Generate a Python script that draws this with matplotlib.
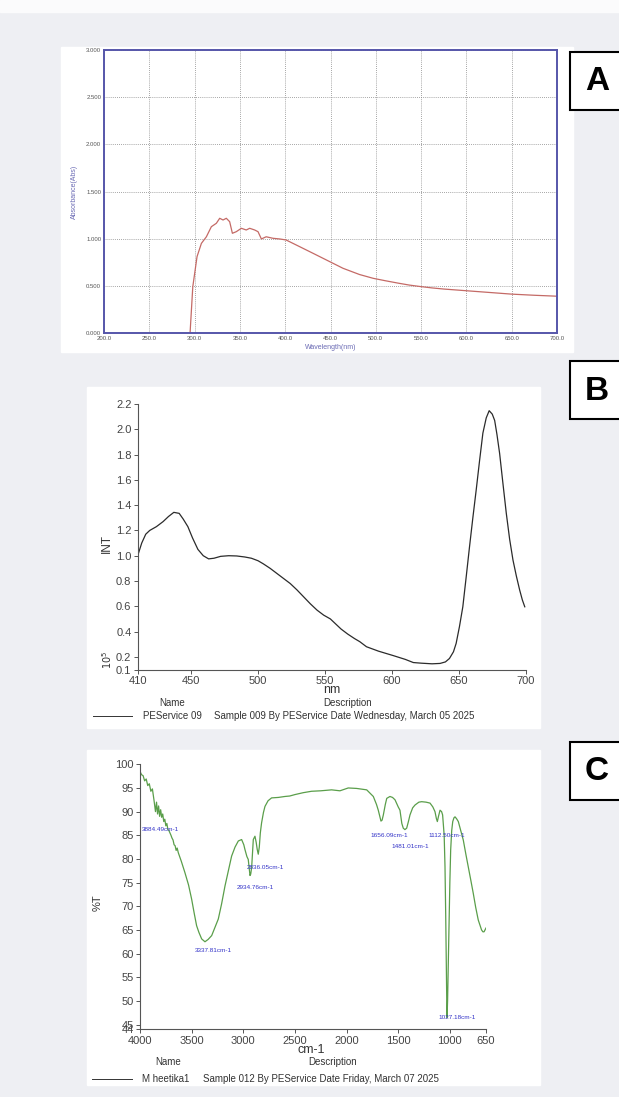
import matplotlib.pyplot as plt
from matplotlib.patches import Rectangle
import numpy as np

plt.rcParams["font.family"] = ["Liberation Sans", "DejaVu Sans"]

# ---- panel A: UV-Vis absorbance ----
wl_a = [295, 298, 302.7, 307.5, 313, 318.5, 324, 327.7, 331.4, 335, 338.7, 341.7,
        346, 351.6, 357, 360.8, 366.3, 370, 373.7, 379, 386.5, 394, 401, 416,
        430.7, 445.5, 463.8, 482, 497, 510, 525, 537, 549.6, 562, 575, 600, 625,
        650, 675, 700]
abs_a = [0.0, 0.49, 0.81, 0.95, 1.02, 1.127, 1.163, 1.216, 1.198, 1.216, 1.18, 1.057,
         1.074, 1.11, 1.092, 1.11, 1.092, 1.074, 0.997, 1.02, 1.004, 0.997, 0.986, 0.915,
         0.845, 0.774, 0.686, 0.62, 0.58, 0.555, 0.528, 0.508, 0.492, 0.478, 0.466,
         0.448, 0.43, 0.412, 0.40, 0.39]
a_xticks = [200, 250, 300, 350, 400, 450, 500, 550, 600, 650, 700]
a_yticks = [0.0, 0.5, 1.0, 1.5, 2.0, 2.5, 3.0]

# ---- panel B: fluorescence (INT x 10^5) ----
wl_b = [410, 413, 416, 419, 424, 429, 433, 437, 441, 444, 447.5, 451, 455, 459, 463,
        467, 472, 478, 484, 490, 495, 500, 504, 509, 514, 519, 524, 529, 534, 539,
        544, 549, 554, 558, 562, 567, 572, 576, 581, 590, 601, 610, 616, 622, 630,
        636, 640, 643, 646, 648, 650.5, 653, 655.5, 658, 660.5, 663, 665.5, 668,
        670.5, 672.7, 675, 676.8, 678.5, 680.5, 683, 685.5, 688, 690.5, 693, 695.5,
        697.5, 699.3]
int_b = [1.0, 1.1, 1.17, 1.2, 1.23, 1.27, 1.31, 1.343, 1.335, 1.29, 1.23, 1.14, 1.05,
         1.0, 0.975, 0.98, 0.995, 1.0, 0.998, 0.99, 0.98, 0.96, 0.935, 0.9, 0.86,
         0.82, 0.78, 0.73, 0.675, 0.62, 0.57, 0.53, 0.5, 0.46, 0.42, 0.38, 0.345,
         0.32, 0.28, 0.245, 0.21, 0.18, 0.155, 0.15, 0.145, 0.148, 0.16, 0.187, 0.24,
         0.306, 0.44, 0.596, 0.83, 1.07, 1.3, 1.52, 1.75, 1.97, 2.09, 2.147, 2.12,
         2.07, 1.96, 1.81, 1.57, 1.335, 1.13, 0.965, 0.84, 0.728, 0.65, 0.596]
b_xticks = [410, 450, 500, 550, 600, 650, 700]
b_yticks = [0.1, 0.2, 0.4, 0.6, 0.8, 1.0, 1.2, 1.4, 1.6, 1.8, 2.0, 2.2]

# ---- panel C: FTIR %T ----
wn_c = [4000, 3985, 3970, 3955, 3940, 3925, 3910, 3895, 3880, 3865, 3850, 3840, 3830,
        3820, 3810, 3800, 3790, 3780, 3770, 3760, 3750, 3740, 3730, 3720, 3710, 3700,
        3690, 3680, 3670, 3660, 3650, 3640, 3629, 3600, 3565, 3530, 3500, 3475, 3452,
        3430, 3403, 3371, 3340, 3306, 3275, 3242, 3210, 3177, 3145, 3113, 3080, 3048,
        3016, 2995, 2984, 2965, 2952, 2940, 2935, 2928, 2919, 2910, 2903, 2887, 2875,
        2865, 2855, 2845, 2835, 2823, 2805, 2790, 2760, 2726, 2660, 2597, 2550, 2500,
        2420, 2339, 2250, 2145, 2064, 1984, 1902, 1805, 1741, 1710, 1693, 1667, 1656,
        1644, 1625, 1611, 1580, 1555, 1531, 1500, 1483, 1465, 1451, 1435, 1418, 1400,
        1386, 1360, 1337, 1300, 1273, 1230, 1192, 1165, 1144, 1130, 1121, 1110, 1095,
        1080, 1070, 1055, 1047, 1040, 1035, 1030, 1027, 1022, 1015, 1008, 1000, 992,
        982, 972, 960, 950, 935, 918, 895, 870, 845, 822, 797, 773, 750, 725, 705,
        693, 680, 669, 660, 653, 650]
t_c = [98.5, 97.8, 97.6, 96.5, 96.9, 95.5, 95.9, 94.3, 94.8, 92.5, 90.0, 92.0, 89.5,
       91.2, 89.0, 90.4, 88.8, 89.5, 87.9, 88.4, 87.0, 87.5, 86.2, 86.0, 85.5, 85.0,
       84.4, 84.0, 83.0, 82.8, 81.8, 82.3, 81.3, 79.5, 77.1, 74.5, 71.5, 68.5, 65.9,
       64.5, 63.1, 62.5, 63.0, 63.8, 65.5, 67.3, 70.5, 74.3, 77.5, 80.6, 82.5, 83.8,
       84.1, 83.0, 82.0, 80.5, 79.9, 77.5, 76.5, 76.8, 78.2, 81.5, 84.1, 84.8, 83.5,
       82.0, 81.0, 82.5, 85.5, 87.6, 89.8, 91.1, 92.3, 92.9, 93.0, 93.2, 93.3, 93.6,
       94.0, 94.3, 94.4, 94.6, 94.4, 95.0, 94.9, 94.6, 93.2, 91.5, 90.3, 88.0, 88.2,
       89.3, 91.5, 92.8, 93.2, 93.0, 92.5, 91.0, 90.3, 87.5, 86.5, 86.2, 86.5, 88.0,
       89.3, 90.8, 91.4, 92.0, 92.1, 92.0, 91.8, 91.0, 90.0, 88.5, 87.9, 89.0, 90.3,
       90.0, 89.3, 85.0, 78.4, 68.0, 58.0, 50.0, 46.5, 50.0, 58.0, 66.0, 75.0, 81.9,
       86.0, 87.9, 88.7, 88.9, 88.5, 87.9, 86.0, 84.0, 81.0, 78.4, 75.5, 72.7, 69.8,
       67.1, 65.8, 65.0, 64.6, 64.6, 65.0, 65.3, 65.4]
c_xticks = [4000, 3500, 3000, 2500, 2000, 1500, 1000, 650]
c_yticks = [44, 45, 50, 55, 60, 65, 70, 75, 80, 85, 90, 95, 100]
c_peaks = ["3884.49cm-1", "2836.05cm-1", "2934.76cm-1", "3337.81cm-1",
           "1656.09cm-1", "1112.50cm-1", "1481.01cm-1", "1027.18cm-1"]
c_peak_x = [3985, 2967, 3064, 3467, 1773, 1209, 1563, 1112]
c_peak_y = [86.3, 78.1, 73.9, 60.6, 85.0, 85.0, 82.7, 46.4]

W, H = 619, 1097


def rect(l, t, r, b):
    return [l / W, 1 - b / H, (r - l) / W, (b - t) / H]


def fig_box(l, t, r, b, **kw):
    fig.patches.append(Rectangle((l / W, 1 - b / H), (r - l) / W, (b - t) / H,
                                 transform=fig.transFigure, **kw))


def ftext(x, y, s, **kw):
    fig.text(x / W, 1 - y / H, s, **kw)


fig = plt.figure(figsize=(W / 100, H / 100), dpi=100, facecolor="#eeeff3")
fig_box(0, 0, W, 12, color="#fbfbfc", zorder=-2)
fig_box(61, 47, 573, 352, color="white", zorder=-2)
fig_box(87, 387, 540, 728, color="white", zorder=-2)
fig_box(87, 750, 540, 1085, color="white", zorder=-2)

# panel labels
for lab, top in zip(["A", "B", "C"], [52, 361, 742]):
    fig_box(570, top, 640, top + 58, facecolor="white", edgecolor="black",
            lw=1.5, zorder=2)
    ftext(597, top + 30, lab, fontsize=24, fontweight="bold",
          ha="center", va="center", zorder=3)

# ---- A ----
ax = fig.add_axes(rect(104, 50, 557, 333))
ax.set_facecolor("white")
ax.plot(wl_a, abs_a, color="#c46a66", lw=0.9)
ax.set_xlim(200, 700)
ax.set_ylim(0, 3)
ax.set_xticks(a_xticks)
ax.set_yticks(a_yticks)
ax.set_xticklabels([f"{v:.1f}" for v in a_xticks])
ax.set_yticklabels([f"{v:.3f}" for v in a_yticks])
ax.tick_params(length=0, labelsize=4.3, labelcolor="#555", pad=2)
ax.grid(True, color="#888", ls=(0, (1, 1.5)), lw=0.6)
for sp in ax.spines.values():
    sp.set_color("#5656aa")
    sp.set_linewidth(1.4)
ax.set_ylabel("Absorbance(Abs)", fontsize=5, color="#6a6ab4", labelpad=6)
ax.set_xlabel("Wavelength(nm)", fontsize=5, color="#6a6ab4", labelpad=2)

gray = "#555"


def style_pe(ax):
    for s in ["top", "right"]:
        ax.spines[s].set_visible(False)
    for s in ["left", "bottom"]:
        ax.spines[s].set_color(gray)
        ax.spines[s].set_linewidth(0.8)
    ax.tick_params(direction="out", length=3, width=0.7, color=gray,
                   labelsize=8, labelcolor="#444", pad=1.5)
    ax.set_facecolor("none")


# ---- B ----
ax = fig.add_axes(rect(137.7, 404, 525.7, 669.5))
ax.plot(wl_b, int_b, color="#2b2b2b", lw=0.9)
ax.set_xlim(410, 700)
ax.set_ylim(0.1, 2.2)
ax.set_xticks(b_xticks)
ax.set_yticks(b_yticks)
ax.set_yticklabels([f"{v:.1f}" for v in b_yticks])
style_pe(ax)
ftext(332, 690, "nm", fontsize=9, color="#333", ha="center", va="center")
ftext(107, 543, "INT", fontsize=8.5, color="#333", rotation=90,
      ha="center", va="center")
ftext(107, 660, r"$10^5$", fontsize=7, color="#333", rotation=90,
      ha="center", va="center")
ftext(172, 703, "Name", fontsize=7, color="#333", ha="center", va="center")
ftext(348, 703, "Description", fontsize=7, color="#333", ha="center", va="center")
fig.add_artist(plt.Line2D([93 / W, 132 / W], [1 - 716 / H] * 2, color="#333", lw=0.7))
ftext(143, 716, "PEService 09", fontsize=7, color="#333", va="center")
ftext(214, 716, "Sample 009 By PEService Date Wednesday, March 05 2025",
      fontsize=7, color="#333", va="center")

# ---- C ----
ax = fig.add_axes(rect(140, 764.3, 486, 1029.3))
ax.plot(wn_c, t_c, color="#5a9e4a", lw=0.9)
ax.set_xlim(4000, 650)
ax.set_ylim(44, 100)
ax.set_xticks(c_xticks)
ax.set_yticks(c_yticks)
style_pe(ax)
for s, x, y in zip(c_peaks, c_peak_x, c_peak_y):
    ax.text(x, y, s, fontsize=4.6, color="#3434c8", ha="left", va="center",
            clip_on=False)
ftext(98, 903, "%T", fontsize=8, color="#333", rotation=90, ha="center", va="center")
ftext(311, 1050, "cm-1", fontsize=9, color="#333", ha="center", va="center")
ftext(168, 1062, "Name", fontsize=7, color="#333", ha="center", va="center")
ftext(333, 1062, "Description", fontsize=7, color="#333", ha="center", va="center")
fig.add_artist(plt.Line2D([92 / W, 132 / W], [1 - 1079 / H] * 2, color="#333", lw=0.7))
ftext(142, 1079, "M heetika1", fontsize=7, color="#333", va="center")
ftext(203, 1079, "Sample 012 By PEService Date Friday, March 07 2025",
      fontsize=7, color="#333", va="center")

fig.savefig("out.png", dpi=100, facecolor=fig.get_facecolor())
